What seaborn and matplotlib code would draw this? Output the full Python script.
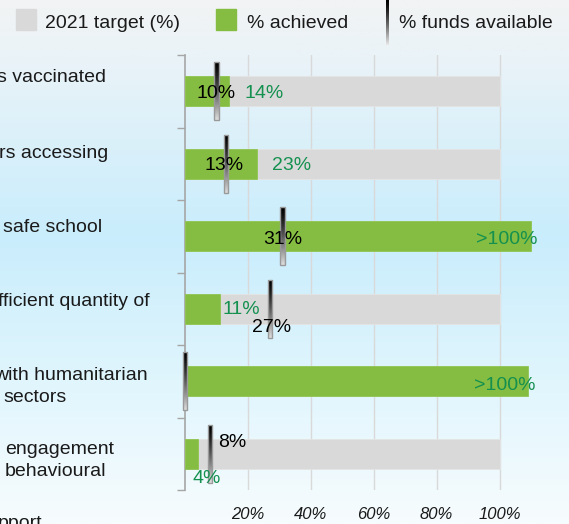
import numpy as np
import pandas as pd
import seaborn as sns
import matplotlib
matplotlib.use("Agg")
import matplotlib.pyplot as plt
from matplotlib.colors import LinearSegmentedColormap
from matplotlib.patches import Rectangle

# Data (category labels are cut off on the left in the source)
categories = ["s vaccinated", "rs accessing", "safe school",
              "fficient quantity of", "with humanitarian\nsectors",
              "engagement\nbehavioural"]
target = [100, 100, 100, 100, 100, 100]
achieved = [14, 23, 110, 11, 109, 4]
achieved_labels = ["14%", "23%", ">100%", "11%", ">100%", "4%"]
funds = [10, 13, 31, 27, 0, 8]
funds_labels = ["10%", "13%", "31%", "27%", "", "8%"]
x_ticks = [20, 40, 60, 80, 100]
x_tick_labels = ["20%", "40%", "60%", "80%", "100%"]
legend_labels = ["2021 target (%)", "% achieved", "% funds available"]

GREY = "#d9d9d9"
GREEN = "#84bd41"
GREEN_TXT = "#14904f"
AXIS_GREY = "#a6a6a6"

W, H = 569, 524
FONT = ["Liberation Sans", "DejaVu Sans"]

sns.set_theme(style="white")
plt.rcParams["font.family"] = FONT

df = pd.DataFrame({"category": categories, "target": target,
                   "achieved": achieved, "funds": funds})

fig = plt.figure(figsize=(W / 100, H / 100), dpi=100)


def px(x, y):
    # pixel coords (top-left origin) -> figure fraction
    return x / W, 1 - y / H


# background gradient
bg = fig.add_axes([0, 0, 1, 1], zorder=-10)
bg_cmap = LinearSegmentedColormap.from_list(
    "bg", [(0.0, "#f2f3f4"), (0.12, "#e9f3f8"), (0.45, "#c9edfc"),
           (0.75, "#e2f6fd"), (1.0, "#f7fcfe")])
bg.imshow(np.linspace(0, 1, 256).reshape(-1, 1), cmap=bg_cmap,
          aspect="auto", extent=(0, 1, 0, 1), origin="upper")
bg.axis("off")

# main axes
x0, y0 = px(185, 490)
x1, y1 = px(569, 55)
ax = fig.add_axes([x0, y0, x1 - x0, y1 - y0])
ax.patch.set_alpha(0)

bar_h = 0.414
sns.barplot(data=df, x="target", y="category", orient="h", color=GREY,
            width=bar_h, saturation=1, ax=ax, zorder=2, linewidth=0.6,
            edgecolor="#e4e4e4")
sns.barplot(data=df, x="achieved", y="category", orient="h", color=GREEN,
            width=bar_h, saturation=1, ax=ax, zorder=3, linewidth=0.6,
            edgecolor="#8fc552")

xmax = (569 - 185) / 3.146
ax.set_xlim(0, xmax)
ax.set_ylim(len(categories) - 0.5, -0.5)

ax.set_xticks(x_ticks)
ax.set_xticklabels(x_tick_labels, fontsize=12, style="italic", color="#1a1a1a")
ax.tick_params(axis="x", length=0, pad=12.5)
ax.set_yticks(np.arange(len(categories) + 1) - 0.5)
ax.set_yticklabels([])
ax.tick_params(axis="y", length=6, width=1, color=AXIS_GREY, direction="out", left=True)
ax.set_xlabel("")
ax.set_ylabel("")
for s in ["top", "right", "bottom"]:
    ax.spines[s].set_visible(False)
ax.spines["left"].set_color(AXIS_GREY)
ax.spines["left"].set_linewidth(1.2)
ax.grid(axis="x", color=GREY, linewidth=1, zorder=0)
ax.set_axisbelow(True)

# funds available markers: thin gradient sticks
grad = np.linspace(0, 1, 100).reshape(-1, 1) ** 1.3
mw = 1.3
for i, f in enumerate(funds):
    ax.imshow(grad, cmap="gray", vmin=0, vmax=1.15, aspect="auto",
              extent=(f - mw / 2, f + mw / 2, i + 0.4, i - 0.4),
              origin="upper", zorder=5, clip_on=False)
    ax.add_patch(Rectangle((f - mw / 2, i - 0.4), mw, 0.8, fill=False,
                           edgecolor="#9a9a9a", lw=1, zorder=6, clip_on=False))
ax.set_xlim(0, xmax)
ax.set_ylim(len(categories) - 0.5, -0.5)

# data labels (layout offsets in pixels)
ppx = 1 / 3.146  # data units per pixel on x
ppy = 1 / 72.5   # data units per pixel on y
fs = 14
# funds labels: (ha, dx px, dy px)
funds_pos = [("center", 0, 2), ("center", -2, 2), ("center", 0, 3),
             ("center", 2, 19), ("center", 0, 0), ("left", 8, -11)]
for i, (lab, (ha, dx, dy)) in enumerate(zip(funds_labels, funds_pos)):
    if lab:
        ax.text(funds[i] + dx * ppx, i + dy * ppy, lab, ha=ha, va="center",
                fontsize=fs, color="black", zorder=7)
# achieved labels: (ha, dx px, dy px)
ach_pos = [("left", 15, 2), ("left", 15, 2), ("right", 6, 3),
           ("left", 3, 1), ("right", 8, 4), ("left", -5, 25)]
for i, (lab, (ha, dx, dy)) in enumerate(zip(achieved_labels, ach_pos)):
    ax.text(achieved[i] + dx * ppx, i + dy * ppy, lab, ha=ha, va="center",
            fontsize=fs, color=GREEN_TXT, zorder=7)

# category labels (cut off at the figure's left edge)
label_pos = [[(-3, 78)], [(-1, 153)], [(3, 227)], [(-2, 301)],
             [(-6, 376), (3, 398)], [(5, 450), (5, 471)]]
for cat, lines in zip(categories, label_pos):
    for text, (lx, ly) in zip(cat.split("\n"), lines):
        fig.text(*px(lx, ly), text, ha="left", va="center", fontsize=fs,
                 color="#1a1a1a")
fig.text(*px(-2, 528), "pport", ha="left", va="baseline", fontsize=fs,
         color="#1a1a1a")

# legend
fig.patches.append(Rectangle(px(16, 30), 20 / W, 21 / H, color=GREY,
                             transform=fig.transFigure))
fig.text(*px(45, 23), legend_labels[0], ha="left", va="center", fontsize=fs,
         color="#1a1a1a")
fig.patches.append(Rectangle(px(216, 30), 20 / W, 21 / H, color=GREEN,
                             transform=fig.transFigure))
fig.text(*px(247, 23), legend_labels[1], ha="left", va="center", fontsize=fs,
         color="#1a1a1a")
lx0, ly0 = px(386, 45)
lg = fig.add_axes([lx0, ly0, 3 / W, 45 / H])
lg.imshow(grad, cmap="gray", vmin=0, vmax=1.1, aspect="auto")
lg.axis("off")
fig.text(*px(399, 23), legend_labels[2], ha="left", va="center", fontsize=fs,
         color="#1a1a1a")

fig.savefig("out.png", dpi=100)
